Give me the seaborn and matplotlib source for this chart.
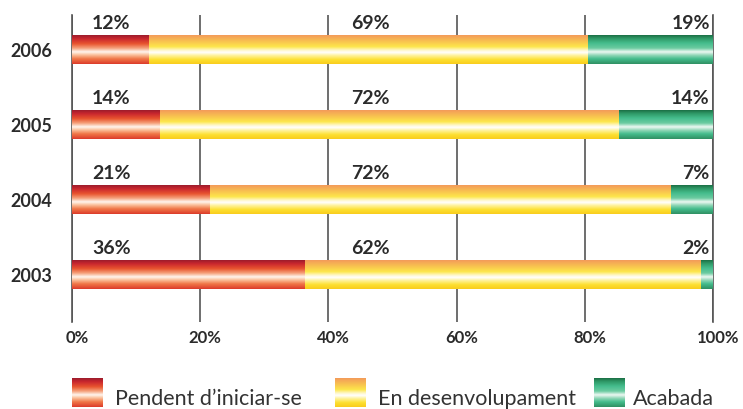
import numpy as np
import pandas as pd
import matplotlib
matplotlib.use('Agg')
import matplotlib.pyplot as plt
import matplotlib.transforms as mtransforms
import seaborn as sns
from matplotlib.colors import LinearSegmentedColormap

# ---- data (bar lengths, labels as printed) ----
years = ['2006', '2005', '2004', '2003']
pendent = [12.0, 13.6, 21.5, 36.2]
desenvolupament = [68.4, 71.6, 71.8, 61.8]
acabada = [19.6, 14.8, 6.7, 2.0]
pendent_labels = ['12%', '14%', '21%', '36%']
desenvolupament_labels = ['69%', '72%', '72%', '62%']
acabada_labels = ['19%', '14%', '7%', '2%']
series_names = ['Pendent d\u2019iniciar-se', 'En desenvolupament', 'Acabada']
x_ticks = [0, 20, 40, 60, 80, 100]
x_tick_labels = ['0%', '20%', '40%', '60%', '80%', '100%']

sns.set_theme(style='white')
plt.rcParams['font.family'] = ['Lato', 'DejaVu Sans']

TXT = '#2b2b2b'
GRID = '#555555'

red_cmap = LinearSegmentedColormap.from_list('red', [
    (0.0, '#9b1c2c'), (0.12, '#c8262e'), (0.3, '#e8552f'), (0.45, '#f5a07a'),
    (0.58, '#fff6ef'), (0.68, '#fbc3a0'), (0.82, '#f07848'), (1.0, '#dc3a2a')])
yel_cmap = LinearSegmentedColormap.from_list('yel', [
    (0.0, '#f39a5a'), (0.2, '#f8c050'), (0.4, '#fde64a'), (0.52, '#fff7c8'),
    (0.6, '#ffffff'), (0.7, '#fff3a0'), (0.85, '#fde030'), (1.0, '#f9cc1c')])
grn_cmap = LinearSegmentedColormap.from_list('grn', [
    (0.0, '#1b6e45'), (0.12, '#2f9a68'), (0.28, '#45bd8d'), (0.45, '#6acba0'),
    (0.58, '#eef9f3'), (0.7, '#8fd6b6'), (0.82, '#45bd8d'), (1.0, '#2f8f62')])
cmaps = [red_cmap, yel_cmap, grn_cmap]
grad = np.linspace(0, 1, 256).reshape(-1, 1)

df = pd.DataFrame({'year': years, 'p': pendent, 'd': desenvolupament, 'a': acabada})
df['pd'] = df['p'] + df['d']
df['total'] = df['pd'] + df['a']

fig = plt.figure(figsize=(7.43, 4.09), dpi=100)
ax = fig.add_axes([72 / 743, 1 - 322 / 409, 641 / 743, 307 / 409])

layers = [('total', grn_cmap), ('pd', yel_cmap), ('p', red_cmap)]
for i, (col, cmap) in enumerate(layers):
    n0 = len(ax.patches)
    sns.barplot(data=df, x=col, y='year', orient='h', width=0.38, ax=ax,
                color='white', order=years)
    for patch in ax.patches[n0:]:
        x0, y0 = patch.get_x(), patch.get_y()
        w, h = patch.get_width(), patch.get_height()
        patch.set_facecolor('none')
        patch.set_edgecolor('none')
        ax.imshow(grad, extent=(x0, x0 + w, y0 + h, y0), aspect='auto',
                  cmap=cmap, zorder=3 + i, interpolation='bilinear')

ax.set_xlim(0, 100)
ax.set_ylim(3.627, -0.467)
ax.set_xlabel('')
ax.set_ylabel('')
ax.set_xticks(x_ticks)
ax.set_xticklabels(x_tick_labels, fontweight='bold', fontsize=12, color=TXT)
for lab in ax.get_yticklabels():
    lab.set_fontweight('bold')
    lab.set_fontsize(13)
    lab.set_color(TXT)
ax.tick_params(axis='both', length=0)
ax.tick_params(axis='x', pad=6)
ax.tick_params(axis='y', pad=14)
shift = mtransforms.ScaledTranslation(5 / 100, 0, fig.dpi_scale_trans)
for lab in ax.get_xticklabels():
    lab.set_transform(lab.get_transform() + shift)
ax.set_axisbelow(True)
ax.grid(axis='x', color=GRID, lw=1.2)
ax.grid(axis='y', visible=False)
for s in ['top', 'bottom']:
    ax.spines[s].set_visible(False)
for s in ['left', 'right']:
    ax.spines[s].set_visible(True)
    ax.spines[s].set_color(GRID)
    ax.spines[s].set_linewidth(1.2)

# value labels
for i, yr in enumerate(years):
    yb = i - 0.28
    ax.text(3.1, yb, pendent_labels[i], ha='left', va='baseline',
            fontsize=14, fontweight='bold', color=TXT, zorder=10)
    ax.text(46.5, yb, desenvolupament_labels[i], ha='center', va='baseline',
            fontsize=14, fontweight='bold', color=TXT, zorder=10)
    ax.text(99.5, yb, acabada_labels[i], ha='right', va='baseline',
            fontsize=14, fontweight='bold', color=TXT, zorder=10)

# legend
leg_patch_x = [72, 335, 594]
leg_text_x = [115, 378, 633]
for name, cmap, px, tx in zip(series_names, cmaps, leg_patch_x, leg_text_x):
    lax = fig.add_axes([px / 743, 1 - 407 / 409, 31 / 743, 29 / 409])
    lax.imshow(grad, aspect='auto', cmap=cmap, interpolation='bilinear')
    lax.set_axis_off()
    fig.text(tx / 743, 1 - 405 / 409, name, ha='left', va='baseline',
             fontsize=15.5, color='#333333')

fig.savefig('out.png', dpi=100)
